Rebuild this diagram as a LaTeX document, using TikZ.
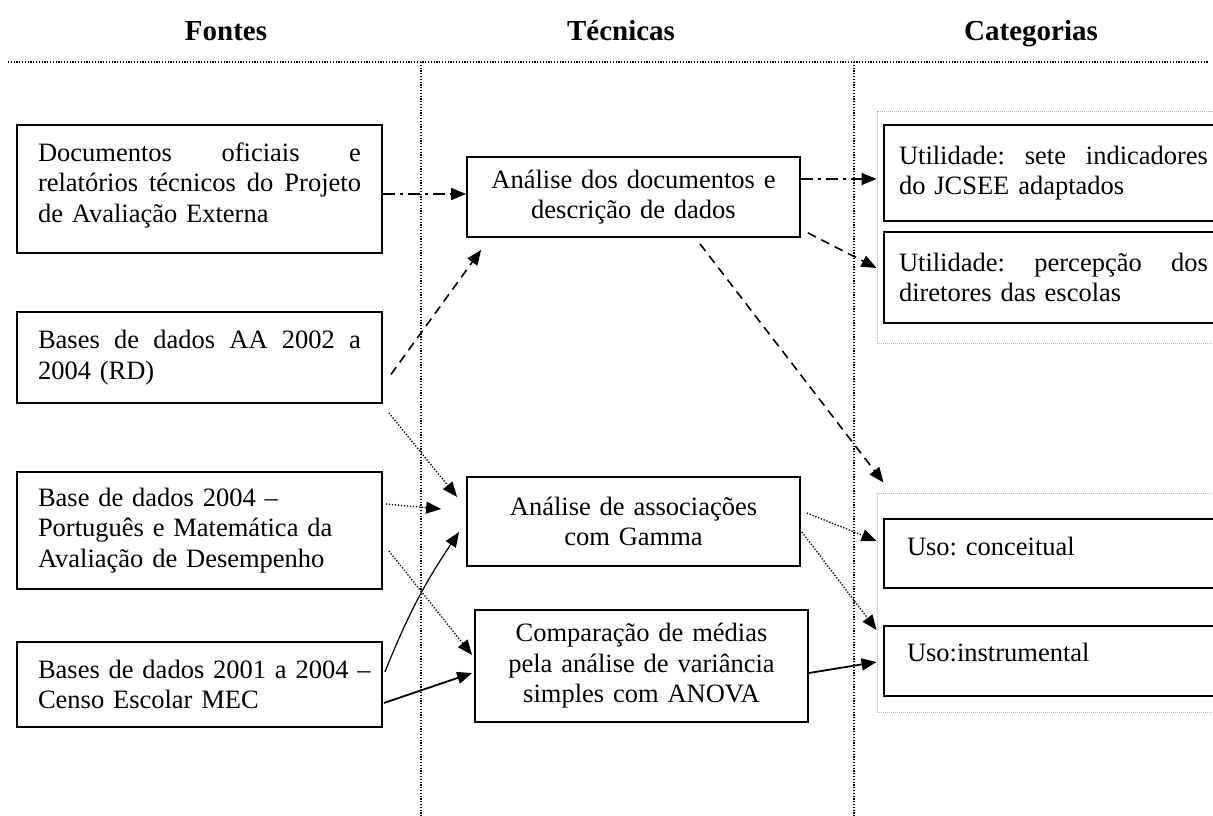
\documentclass[tikz,border=0pt]{standalone}
\usepackage{fontspec}
\setmainfont{Liberation Serif}
\usetikzlibrary{arrows.meta,calc}
\newcommand{\jline}[2]{\leavevmode\hbox to #1{#2}}
\begin{document}
\begin{tikzpicture}[x=1pt,y=-1pt,
  every node/.style={font=\fontsize{26.5}{30.5}\selectfont\frenchspacing},
  hdr/.style={font=\fontsize{29}{34}\selectfont\bfseries, anchor=base, inner sep=0pt},
  lbox/.style={draw, line width=1.8pt, inner sep=0pt, minimum width=365pt, text width=323pt, align=left},
  mbox/.style={draw, line width=1.8pt, inner sep=0pt, minimum width=333pt, text width=320pt, align=center},
  rbox/.style={draw, line width=1.8pt, inner sep=0pt, minimum width=339pt, text width=309pt, align=left},
  ubox/.style={draw, line width=1.8pt, inner sep=0pt, minimum width=339pt, text width=293pt, align=left},
  frame/.style={draw=gray!60, line width=0.9pt, dash pattern=on 1pt off 1pt, inner sep=0pt, minimum width=355pt},
  divider/.style={line width=1.2pt, dash pattern=on 1.2pt off 1.6pt},
  dashdot/.style={line width=1.8pt, dash pattern=on 12pt off 5pt on 3pt off 5pt},
  dashedc/.style={line width=1.6pt, dash pattern=on 9pt off 6pt},
  dottedc/.style={line width=1.3pt, dash pattern=on 1.3pt off 1.7pt},
  thinc/.style={line width=1.2pt},
  thickc/.style={line width=1.8pt},
  >={Triangle[length=15pt,width=12pt]}
]
\useasboundingbox (0,0) rectangle (1213,816);

% headers
\node[hdr] (H1) at (226,41) {Fontes};
\node[hdr] (H2) at (621,41) {Técnicas};
\node[hdr] (H3) at (1031,41) {Categorias};

% dividers
\draw[divider] (8,62) -- (1208,62);
\draw[divider] (421,62) -- (421,816);
\draw[divider] (854,62) -- (854,816);

% frames on the right
\node[frame, minimum height=232pt] (F1) at (1054.5,227) {};
\node[frame, minimum height=219pt] (F2) at (1054.5,602.5) {};

% left column
\node[lbox, minimum height=128pt, text depth=74pt] (L1) at (199.5,189)
  {\jline{323pt}{Documentos \hfill oficiais \hfill e}\\\jline{323pt}{relatórios \hfill técnicos \hfill do \hfill Projeto}\\de Avaliação Externa};
\node[lbox, minimum height=91pt] (L2) at (199.5,357.5)
  {\jline{323pt}{Bases \hfill de \hfill dados \hfill AA \hfill 2002 \hfill a}\\2004 (RD)};
\node[lbox, minimum height=117pt] (L3) at (199.5,530.5)
  {Base de dados 2004 –\\Português e Matemática da\\Avaliação de Desempenho};
\node[lbox, minimum height=85pt] (L4) at (199.5,684.5)
  {\jline{323pt}{Bases \hfill de \hfill dados \hfill 2001 \hfill a \hfill 2004 \hfill –}\\Censo Escolar MEC};

% middle column
\node[mbox, minimum height=80pt] (M1) at (633.5,197) {Análise dos documentos e\\descrição de dados};
\node[mbox, minimum height=89pt] (M2) at (633.5,521.5) {Análise de associações\\com Gamma};
\node[mbox, minimum height=112pt] (M3) at (641.5,666) {Comparação de médias\\pela análise de variância\\simples com ANOVA};

% right column
\node[rbox, minimum height=96pt] (R1) at (1053.5,173)
  {\jline{309pt}{Utilidade: \hfill sete \hfill indicadores}\\do JCSEE adaptados};
\node[rbox, minimum height=91pt] (R2) at (1053.5,277.5)
  {\jline{309pt}{Utilidade: \hfill percepção \hfill dos}\\diretores das escolas};
\node[ubox, minimum height=69pt, text depth=15pt] (R3) at (1053.5,553.5) {Uso: conceitual};
\node[ubox, minimum height=70pt, text depth=18pt] (R4) at (1053.5,661) {Uso:instrumental};

% connectors
\draw[dashdot,->] (L1.east |- 0,194) -- (M1.west |- 0,194);
\draw[dashdot,->] (M1.east |- 0,179) -- (F1.west |- 0,179);
\draw[dashedc,->] ($(M1.south east)+(7,-5)$) -- (F1.west |- 0,268);
\draw[dashedc,->] ($(L2.east)+(8,17)$) -- ($(M1.south west)+(15,12)$);
\draw[dashedc,->] ($(M1.south)+(66.5,6)$) -- ($(F2.north west)+(7,-10)$);
\draw[dottedc,->] ($(L2.south east)+(6,9)$) -- ($(M2.west)+(-9,-24.5)$);
\draw[dottedc,->] ($(L3.east)+(3,-26.5)$) -- ($(M2.west)+(-25,-12.5)$);
\draw[dottedc,->] ($(L3.east)+(6,20.5)$) -- ($(M3.west)+(-2,-11)$);
\draw[thinc,->] ($(L4.east)+(2,-12.5)$) to[bend left=6] ($(M2.west)+(-7,10.5)$);
\draw[thickc,->] ($(L4.east)+(1,18.5)$) -- ($(M3.west)+(-2,7)$);
\draw[dottedc,->] ($(M2.east)+(6,-8.5)$) -- (F2.west |- 0,541);
\draw[dottedc,->] ($(M2.east)+(1,10.5)$) -- (F2.west |- 0,630);
\draw[thickc,->] (M3.east |- 0,673) -- (F2.west |- 0,662);
\end{tikzpicture}
\end{document}
